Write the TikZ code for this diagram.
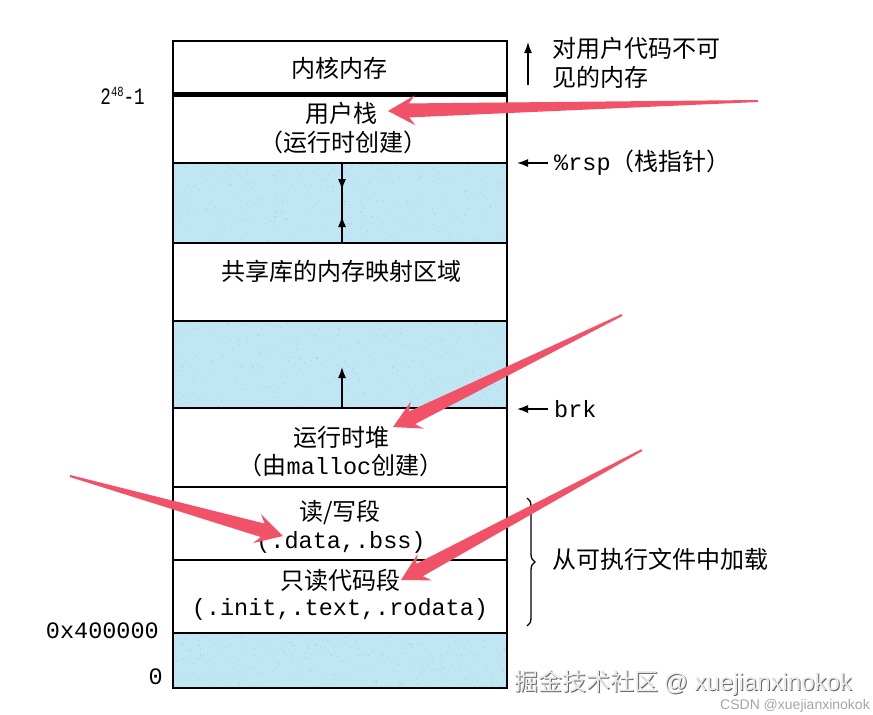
\documentclass[tikz,border=0pt]{standalone}
\usepackage{fontspec}
\usepackage{graphicx}
\newfontfamily\cjk{Noto Sans CJK SC}
\newfontfamily\mono{Liberation Mono}
\newfontfamily\wsans{Liberation Sans}
\usetikzlibrary{calc,decorations.pathreplacing,arrows.meta}
\definecolor{memblue}{RGB}{192,229,243}
\definecolor{speck}{RGB}{120,160,190}
\definecolor{annred}{RGB}{241,82,104}
\tikzset{
  cjkt/.style={font=\cjk\fontsize{24}{26}\selectfont, inner sep=0pt},
  monot/.style={font=\mono\fontsize{23.5}{26}\selectfont, inner sep=0pt},
  frame/.style={line width=2.5pt, draw=black},
  divider/.style={line width=2pt, draw=black},
  thinarrow/.style={line width=1.4pt, -{Latex[length=11pt,width=8pt]}},
  plainline/.style={line width=1.4pt},
  bracestyle/.style={line width=1.3pt, decorate, decoration={brace, amplitude=8pt}},
  blueband/.style={fill=memblue},
}
\newcommand\annarrow[2]{%
  \path ($(#2)!27pt!(#1)$) coordinate (hb) ($(#2)!21pt!(#1)$) coordinate (sb);
  \fill[annred] (#2) -- ($(hb)!15pt!90:(#1)$) -- ($(sb)!7pt!90:(#1)$)
    -- ($(#1)!1pt!-90:(#2)$) -- ($(#1)!1pt!90:(#2)$)
    -- ($(sb)!7pt!-90:(#1)$) -- ($(hb)!15pt!-90:(#1)$) -- cycle;}
\newcommand\speckle[4]{%
  \foreach \i in {1,...,260}{%
    \pgfmathsetmacro\rx{#1+(#3-#1)*rnd}%
    \pgfmathsetmacro\ry{#2+(#4-#2)*rnd}%
    \fill[speck, opacity=0.35] (\rx,\ry) circle (0.6pt);}}
\begin{document}
\begin{tikzpicture}[x=1pt,y=-1pt]
\useasboundingbox (0,0) rectangle (873,715);
\fill[white] (0,0) rectangle (873,715);
\pgfmathsetseed{11}
% blue bands
\fill[blueband] (173,163) rectangle (507,243);
\fill[blueband] (173,321) rectangle (507,408);
\fill[blueband] (173,633) rectangle (507,688);
\speckle{174}{164}{506}{242}
\speckle{174}{322}{506}{407}
\speckle{174}{634}{506}{687}
% dividers
\foreach \yy in {163,243,321,408,487,560,633}{\draw[divider] (173,\yy) -- (507,\yy);}
\draw[line width=5pt] (173,94.5) -- (507,94.5);
\draw[frame] (173,41) rectangle (507,688);
% inner arrows
\coordinate (s1t) at (342,163); \coordinate (s1b) at (342,243);
\coordinate (s1d) at (342,190); \coordinate (s1u) at (342,216);
\draw[plainline] (s1t) -- (s1b);
\draw[thinarrow] (s1t) -- (s1d);
\draw[thinarrow] (s1b) -- (s1u);
\coordinate (h1b) at (342,408); \coordinate (h1t) at (342,367);
\draw[thinarrow] (h1b) -- (h1t);
% box labels
\node[cjkt] (kernel) at (339,68) {内核内存};
\node[cjkt] (ustack) at (341,113) {用户栈};
\node[cjkt] (ustack2) at (343,142) {（运行时创建）};
\node[cjkt] (shlib) at (341,271) {共享库的内存映射区域};
\node[cjkt] (heap) at (341,437) {运行时堆};
\node[cjkt] (heap2) at (341,465) {（由{\mono\fontsize{23.5}{26}\selectfont malloc}创建）};
\node[cjkt] (rw) at (340,512) {读/写段};
\node[monot] (rw2) at (341,542) {(.data,.bss)};
\node[cjkt] (ro) at (340,580) {只读代码段};
\node[monot] (ro2) at (340,609) {(.init,.text,.rodata)};
% right side
\coordinate (invb) at (528,85); \coordinate (invt) at (528,42);
\draw[thinarrow] (invb) -- (invt);
\node[cjkt, anchor=west] (inv1) at (552,48) {对用户代码不可};
\node[cjkt, anchor=west] (inv2) at (552,77) {见的内存};
\coordinate (rspa) at (548,163); \coordinate (rspb) at (517,163);
\draw[thinarrow] (rspa) -- (rspb);
\node[inner sep=0pt, anchor=west] (rsp) at (554,163) {{\mono\fontsize{23.5}{26}\selectfont\%rsp}{\cjk\fontsize{24}{26}\selectfont（栈指针）}};
\coordinate (brka) at (548,409); \coordinate (brkb) at (517,409);
\draw[thinarrow] (brka) -- (brkb);
\node[monot, anchor=west] (brk) at (554,409) {brk};
\coordinate (bra) at (527,498); \coordinate (brb) at (527,626);
\draw[bracestyle] (bra) -- (brb);
\node[cjkt, anchor=west] (load) at (552,559) {从可执行文件中加载};
% left side
\node[monot, anchor=east] (topaddr) at (145,96) {\scalebox{0.75}[1]{2\raisebox{8pt}{\fontsize{14}{14}\selectfont 48}-1}};
\node[monot, anchor=east] (codeaddr) at (159,631) {0x400000};
\node[monot, anchor=east] (zero) at (163,677) {0};
% annotation arrows
\coordinate (a1t) at (758,101); \coordinate (a1h) at (388,111);
\coordinate (a2t) at (622,315); \coordinate (a2h) at (393,427);
\coordinate (a3t) at (70,476);  \coordinate (a3h) at (283,536);
\coordinate (a4t) at (642,450); \coordinate (a4h) at (401,580);
\annarrow{a1t}{a1h}
\annarrow{a2t}{a2h}
\annarrow{a3t}{a3h}
\annarrow{a4t}{a4h}
% watermarks
\node[anchor=west, inner sep=0pt, text=black!60, font=\cjk\fontsize{24}{26}\selectfont] (wm0) at (515,684) {掘金技术社区 {\wsans @ xuejianxinokok}};
\node[anchor=west, inner sep=0pt, text=black!8, font=\cjk\fontsize{24}{26}\selectfont] (wm1) at (514,683) {掘金技术社区 {\wsans @ xuejianxinokok}};
\node[anchor=east, inner sep=0pt, text=black!35, font=\wsans\fontsize{14}{16}\selectfont] (wm2) at (870,706) {CSDN @xuejianxinokok};
\end{tikzpicture}
\end{document}
